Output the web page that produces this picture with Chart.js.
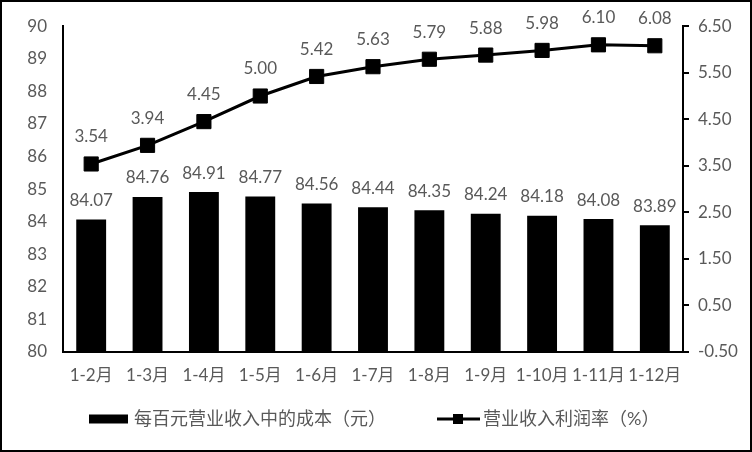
<!DOCTYPE html>
<html>
<head>
<meta charset="utf-8">
<script src="https://cdn.jsdelivr.net/npm/chart.js@4/dist/chart.umd.min.js"></script>
<style>
  html, body { margin: 0; padding: 0; background: #fff; }
  #wrap { width: 752px; height: 452px; }
</style>
</head>
<body>
<div id="wrap"><canvas id="myChart"></canvas></div>
<script>
const months = ["1-2月", "1-3月", "1-4月", "1-5月", "1-6月", "1-7月", "1-8月", "1-9月", "1-10月", "1-11月", "1-12月"];
const costPer100 = [84.07, 84.76, 84.91, 84.77, 84.56, 84.44, 84.35, 84.24, 84.18, 84.08, 83.89];
const profitRate = [3.54, 3.94, 4.45, 5.00, 5.42, 5.63, 5.79, 5.88, 5.98, 6.10, 6.08];
const costLabel = "每百元营业收入中的成本（元）";
const rateLabel = "营业收入利润率（%）";

const FONT = '"Lato", "Noto Sans CJK SC", sans-serif';
const GREY = "#595959";

// value labels above bars and points
const valueLabels = {
  id: "valueLabels",
  afterDatasetsDraw(chart) {
    const ctx = chart.ctx;
    ctx.save();
    ctx.font = "17px " + FONT;
    ctx.fillStyle = GREY;
    ctx.textAlign = "center";
    ctx.textBaseline = "middle";
    chart.data.datasets.forEach((ds, i) => {
      const meta = chart.getDatasetMeta(i);
      const off = ds.type === "line" ? 27 : 19;
      meta.data.forEach((el, j) => {
        ctx.fillText(ds.data[j].toFixed(2), el.x, el.y - off);
      });
    });
    ctx.restore();
  }
};

// legend + outer frame
const frameLegend = {
  id: "frameLegend",
  beforeDraw(chart) {
    const ctx = chart.ctx;
    ctx.save();
    ctx.fillStyle = "#fff";
    ctx.fillRect(0, 0, chart.width, chart.height);
    ctx.restore();
  },
  afterDraw(chart) {
    const ctx = chart.ctx;
    ctx.save();
    const y = 419;
    // bar item
    ctx.fillStyle = "#000";
    ctx.fillRect(89, y - 4.5, 39, 9);
    ctx.font = "18px " + FONT;
    ctx.fillStyle = GREY;
    ctx.textBaseline = "middle";
    ctx.fillText(chart.data.datasets[1].label, 134, y);
    // line item
    ctx.strokeStyle = "#000";
    ctx.lineWidth = 3;
    ctx.beginPath();
    ctx.moveTo(437, y);
    ctx.lineTo(480, y);
    ctx.stroke();
    ctx.fillStyle = "#000";
    ctx.fillRect(453, y - 5, 10, 10);
    ctx.fillStyle = GREY;
    ctx.fillText(chart.data.datasets[0].label, 483, y);
    // frame
    ctx.strokeStyle = "#000";
    ctx.lineWidth = 2;
    ctx.strokeRect(1, 1, chart.width - 2, chart.height - 2);
    ctx.restore();
  }
};

new Chart(document.getElementById("myChart"), {
  data: {
    labels: months,
    datasets: [
      {
        type: "line",
        label: rateLabel,
        data: profitRate,
        yAxisID: "y1",
        borderColor: "#000",
        backgroundColor: "#000",
        borderWidth: 3,
        pointStyle: "rect",
        pointRadius: 10,
        pointBorderWidth: 1,
        pointBackgroundColor: "#000",
        pointBorderColor: "#000",
        tension: 0,
        order: 1
      },
      {
        type: "bar",
        label: costLabel,
        data: costPer100,
        yAxisID: "y",
        backgroundColor: "#000",
        barPercentage: 0.53,
        categoryPercentage: 1.0,
        order: 2
      }
    ]
  },
  plugins: [valueLabels, frameLegend],
  options: {
    responsive: true,
    maintainAspectRatio: false,
    animation: false,
    layout: { padding: { top: 24, left: 0, right: 0, bottom: 0 } },
    plugins: {
      legend: { display: false },
      tooltip: { enabled: false }
    },
    scales: {
      x: {
        grid: { display: false, drawTicks: false },
        border: { display: true, color: "#000", width: 2 },
        ticks: { color: GREY, font: { family: FONT, size: 17 }, padding: 13, maxRotation: 0, autoSkip: false },
        afterFit(scale) { scale.height = 100; }
      },
      y: {
        position: "left",
        min: 80,
        max: 90,
        grid: { display: false, drawTicks: false },
        border: { display: true, color: "#000", width: 2 },
        ticks: { stepSize: 1, color: GREY, font: { family: FONT, size: 17 }, padding: 16 },
        afterFit(scale) { scale.width = 63; }
      },
      y1: {
        position: "right",
        min: -0.5,
        max: 6.5,
        grid: { drawOnChartArea: false, drawTicks: true, tickLength: 6, color: "#000", lineWidth: 2 },
        border: { display: true, color: "#000", width: 2 },
        ticks: {
          stepSize: 1,
          color: GREY,
          font: { family: FONT, size: 17 },
          padding: 9,
          callback: (v) => v.toFixed(2)
        },
        afterFit(scale) { scale.width = 69; }
      }
    }
  }
});
</script>
</body>
</html>
